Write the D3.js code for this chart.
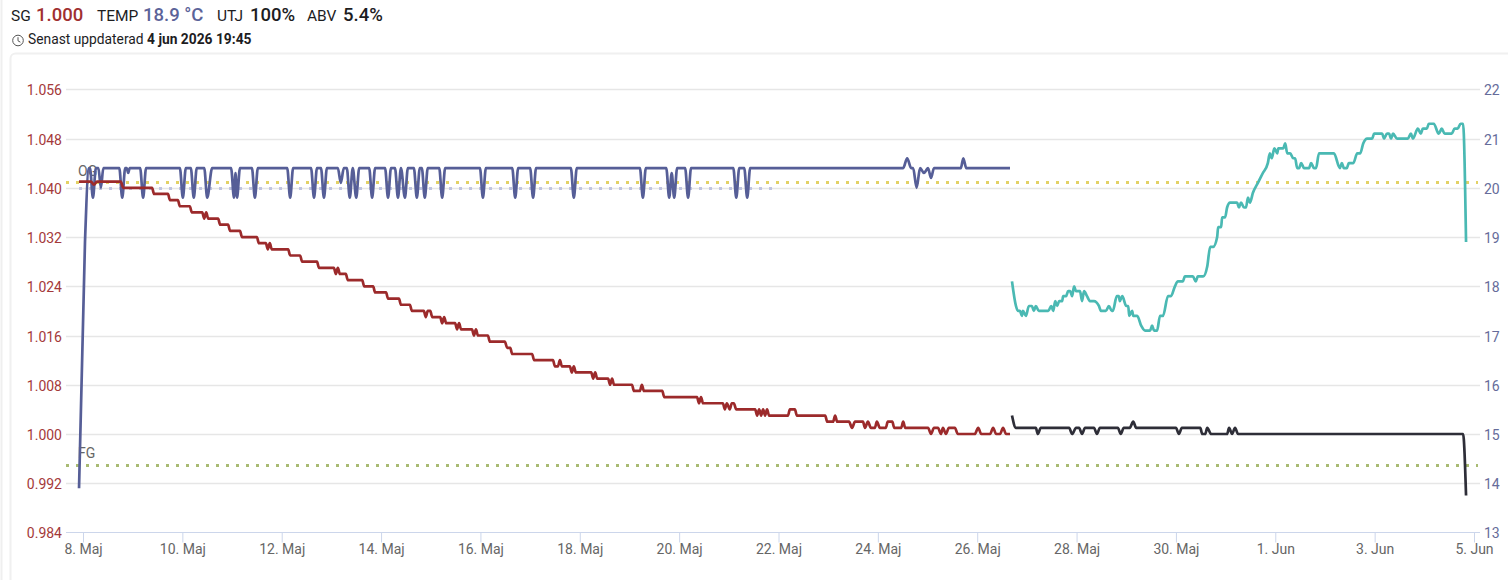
<!DOCTYPE html>
<html><head><meta charset="utf-8">
<script src="https://cdn.jsdelivr.net/npm/d3@7/dist/d3.min.js"></script>
<style>
html,body{margin:0;padding:0;background:#fff;overflow:hidden}
svg{display:block;font-family:Roboto,sans-serif}
</style></head><body><svg id="c" width="1508" height="580"></svg>
<script>
const sgTicks=[0.984,0.992,1.000,1.008,1.016,1.024,1.032,1.040,1.048,1.056];
const tempTicks=[13,14,15,16,17,18,19,20,21,22];
const dayTicks=[0,2,4,6,8,10,12,14,16,18,20,22,24,26,28];
const dayLabels=["8. Maj","10. Maj","12. Maj","14. Maj","16. Maj","18. Maj","20. Maj","22. Maj","24. Maj","26. Maj","28. Maj","30. Maj","1. Jun","3. Jun","5. Jun"];
const ogValue=1.041, fgValue=0.995, targetTemp=20, targetSpan=[-0.08,14.0];
// [days since 8 May, degrees]
const tempFerment=[[-0.08,13.9],[0.04,18.9],[0.12,20.4],[0.14,20.4],[0.20,19.8],[0.26,20.4],[0.31,20.4],[0.36,20.0],[0.41,20.4],[0.73,20.4],[0.79,19.8],[0.85,20.4],[0.88,20.4],[0.91,20.3],[0.94,20.4],[1.15,20.4],[1.21,19.8],[1.27,20.4],[1.95,20.4],[2.01,19.8],[2.07,20.4],[2.17,20.4],[2.23,19.8],[2.29,20.4],[2.44,20.4],[2.50,19.8],[2.60,20.4],[2.98,20.4],[3.04,19.8],[3.07,20.3],[3.10,19.8],[3.16,20.4],[3.40,20.4],[3.46,19.8],[3.52,20.4],[4.11,20.4],[4.17,19.8],[4.23,20.4],[4.59,20.4],[4.65,19.8],[4.71,20.4],[4.79,20.4],[4.85,19.8],[4.91,20.4],[5.13,20.4],[5.19,20.1],[5.25,20.4],[5.31,20.4],[5.37,19.8],[5.43,20.4],[5.50,19.8],[5.56,20.4],[5.76,20.4],[5.82,19.8],[5.88,20.4],[6.08,20.4],[6.14,19.8],[6.20,20.4],[6.28,20.4],[6.34,19.8],[6.40,20.4],[6.48,19.8],[6.54,20.4],[6.66,20.4],[6.72,19.8],[6.78,20.4],[6.82,20.4],[6.88,19.8],[6.94,20.4],[7.17,20.4],[7.23,19.8],[7.29,20.4],[7.99,20.4],[8.05,19.8],[8.11,20.4],[8.64,20.4],[8.70,19.8],[8.76,20.4],[9.00,20.4],[9.06,19.8],[9.12,20.4],[9.82,20.4],[9.88,19.8],[9.94,20.4],[11.21,20.4],[11.27,19.8],[11.33,20.4],[11.74,20.4],[11.80,19.8],[11.85,20.3],[11.90,19.8],[11.96,20.4],[12.12,20.4],[12.18,19.8],[12.24,20.4],[13.09,20.4],[13.15,19.8],[13.21,20.4],[13.31,20.4],[13.37,19.8],[13.43,20.4],[16.51,20.4],[16.59,20.6],[16.67,20.4],[16.71,20.4],[16.78,20.0],[16.85,20.4],[16.93,20.3],[16.97,20.35],[17.01,20.4],[17.07,20.2],[17.13,20.4],[17.67,20.4],[17.72,20.6],[17.78,20.4],[18.66,20.4]];
// [days since 8 May, specific gravity]
const sgFerment=[[-0.08,1.041],[0.16,1.041],[0.22,1.0405],[0.28,1.041],[0.76,1.041],[0.81,1.040],[1.39,1.040],[1.43,1.039],[1.71,1.039],[1.75,1.038],[1.91,1.038],[1.95,1.037],[2.15,1.037],[2.19,1.036],[2.40,1.036],[2.44,1.035],[2.48,1.036],[2.52,1.035],[2.72,1.035],[2.76,1.034],[2.92,1.034],[2.96,1.033],[3.16,1.033],[3.20,1.032],[3.50,1.032],[3.54,1.031],[3.68,1.031],[3.72,1.030],[3.76,1.031],[3.80,1.030],[4.13,1.030],[4.17,1.029],[4.37,1.029],[4.41,1.028],[4.71,1.028],[4.75,1.027],[5.05,1.027],[5.09,1.026],[5.13,1.027],[5.17,1.026],[5.29,1.026],[5.33,1.025],[5.62,1.025],[5.66,1.024],[5.84,1.024],[5.88,1.023],[6.10,1.023],[6.14,1.022],[6.36,1.022],[6.40,1.021],[6.58,1.021],[6.62,1.020],[6.86,1.020],[6.90,1.019],[6.94,1.020],[6.99,1.020],[7.03,1.019],[7.19,1.019],[7.23,1.018],[7.27,1.019],[7.31,1.018],[7.49,1.018],[7.53,1.017],[7.57,1.018],[7.61,1.017],[7.83,1.017],[7.87,1.016],[7.91,1.017],[7.95,1.016],[8.15,1.016],[8.19,1.015],[8.49,1.015],[8.54,1.014],[8.60,1.014],[8.64,1.013],[9.04,1.013],[9.08,1.012],[9.46,1.012],[9.50,1.011],[9.56,1.011],[9.60,1.012],[9.64,1.011],[9.80,1.011],[9.84,1.010],[9.88,1.011],[9.92,1.010],[10.23,1.010],[10.27,1.009],[10.31,1.010],[10.35,1.009],[10.57,1.009],[10.61,1.008],[10.65,1.009],[10.69,1.008],[11.05,1.008],[11.09,1.007],[11.21,1.007],[11.25,1.008],[11.29,1.007],[11.66,1.007],[11.70,1.006],[12.36,1.006],[12.40,1.005],[12.44,1.006],[12.48,1.005],[12.88,1.005],[12.92,1.004],[12.96,1.005],[13.02,1.004],[13.06,1.005],[13.10,1.005],[13.15,1.004],[13.53,1.004],[13.57,1.003],[13.61,1.004],[13.65,1.003],[13.69,1.004],[13.73,1.003],[13.77,1.004],[13.81,1.003],[14.19,1.003],[14.23,1.004],[14.33,1.004],[14.37,1.003],[14.94,1.003],[14.98,1.002],[15.10,1.002],[15.14,1.003],[15.18,1.002],[15.42,1.002],[15.48,1.001],[15.54,1.002],[15.70,1.002],[15.74,1.001],[15.80,1.002],[15.86,1.001],[15.94,1.001],[15.98,1.002],[16.04,1.001],[16.16,1.001],[16.20,1.002],[16.29,1.002],[16.33,1.001],[16.47,1.001],[16.51,1.002],[16.55,1.001],[17.01,1.001],[17.07,1.000],[17.13,1.001],[17.21,1.001],[17.27,1.000],[17.31,1.001],[17.37,1.000],[17.43,1.001],[17.55,1.001],[17.61,1.000],[17.95,1.000],[18.02,1.001],[18.08,1.000],[18.26,1.000],[18.32,1.001],[18.38,1.000],[18.46,1.000],[18.52,1.001],[18.58,1.000],[18.66,1.000]];
const tempLate=[[18.70,18.1],[18.78,17.6],[18.82,17.5],[18.86,17.5],[18.90,17.4],[18.92,17.5],[18.98,17.4],[19.04,17.6],[19.10,17.6],[19.14,17.5],[19.18,17.6],[19.24,17.5],[19.43,17.5],[19.49,17.6],[19.53,17.5],[19.57,17.7],[19.61,17.6],[19.65,17.7],[19.71,17.7],[19.73,17.8],[19.79,17.8],[19.83,17.9],[19.87,17.9],[19.91,17.8],[19.95,18.0],[19.99,17.9],[20.07,17.9],[20.11,17.7],[20.15,17.9],[20.21,17.8],[20.27,17.7],[20.35,17.7],[20.45,17.6],[20.49,17.5],[20.59,17.5],[20.65,17.6],[20.71,17.5],[20.73,17.5],[20.81,17.8],[20.85,17.8],[20.87,17.7],[20.92,17.8],[21.00,17.6],[21.04,17.6],[21.06,17.4],[21.12,17.5],[21.14,17.4],[21.22,17.4],[21.30,17.2],[21.38,17.1],[21.48,17.1],[21.52,17.2],[21.56,17.1],[21.62,17.1],[21.68,17.4],[21.74,17.4],[21.84,17.8],[21.90,17.8],[21.98,18.0],[22.04,18.1],[22.14,18.1],[22.18,18.2],[22.34,18.2],[22.40,18.1],[22.44,18.2],[22.55,18.2],[22.63,18.4],[22.69,18.8],[22.75,18.8],[22.83,19.0],[22.85,19.2],[22.91,19.2],[22.93,19.4],[22.99,19.4],[23.03,19.6],[23.09,19.7],[23.23,19.7],[23.27,19.6],[23.31,19.7],[23.37,19.6],[23.41,19.6],[23.45,19.8],[23.49,19.7],[23.55,19.9],[23.65,20.1],[23.75,20.3],[23.85,20.5],[23.89,20.7],[23.93,20.6],[23.98,20.8],[24.04,20.7],[24.06,20.8],[24.16,20.8],[24.20,20.9],[24.24,20.7],[24.30,20.7],[24.36,20.6],[24.40,20.6],[24.44,20.4],[24.48,20.4],[24.52,20.5],[24.58,20.4],[24.68,20.4],[24.72,20.5],[24.78,20.4],[24.82,20.4],[24.88,20.7],[25.18,20.7],[25.30,20.4],[25.34,20.5],[25.38,20.4],[25.44,20.4],[25.48,20.5],[25.57,20.5],[25.65,20.7],[25.71,20.7],[25.77,20.9],[25.85,21.0],[25.95,21.0],[25.99,21.1],[26.15,21.1],[26.19,21.0],[26.25,21.1],[26.29,21.1],[26.33,21.0],[26.37,21.1],[26.45,21.0],[26.67,21.0],[26.73,21.1],[26.77,21.0],[26.87,21.2],[26.93,21.1],[26.97,21.2],[27.05,21.2],[27.09,21.3],[27.19,21.3],[27.29,21.1],[27.35,21.2],[27.41,21.1],[27.55,21.1],[27.61,21.2],[27.67,21.2],[27.73,21.3],[27.78,21.3],[27.84,18.9]];
const sgLate=[[18.70,1.003],[18.78,1.001],[19.18,1.001],[19.22,1.000],[19.28,1.001],[19.85,1.001],[19.91,1.000],[19.99,1.001],[20.05,1.001],[20.11,1.000],[20.17,1.001],[20.35,1.001],[20.41,1.000],[20.47,1.001],[20.83,1.001],[20.89,1.000],[20.95,1.001],[21.07,1.001],[21.14,1.002],[21.20,1.001],[22.00,1.001],[22.06,1.000],[22.12,1.001],[22.49,1.001],[22.53,1.000],[22.59,1.000],[22.63,1.001],[22.71,1.000],[23.03,1.000],[23.07,1.001],[23.13,1.000],[23.19,1.001],[23.25,1.000],[27.78,1.000],[27.84,0.990]];

const svg=d3.select("#c");
const x=d3.scaleLinear().domain([0,28]).range([83,1474]);
const yS=d3.scaleLinear().domain([0.984,1.056]).range([532.5,89.3]);
const yT=d3.scaleLinear().domain([13,22]).range([532.5,89.3]);
const plotL=66, plotR=1480;

// page and card
svg.append("rect").attr("width",1508).attr("height",580).attr("fill","#fff");
svg.append("rect").attr("x",0.5).attr("y",-5).attr("width",2).attr("height",600).attr("fill","#efefef");
svg.append("rect").attr("x",10.5).attr("y",53.5).attr("width",1520).attr("height",560).attr("rx",5).attr("fill","#fff").attr("stroke","#f0f0f0").attr("stroke-width",2);

// header
const h=svg.append("g").attr("fill","#1d1d1f");
const head=(tx,bx,lab,val,col)=>{
  h.append("text").attr("x",tx).attr("y",21).attr("font-size",15.5).text(lab);
  h.append("text").attr("x",bx).attr("y",21).attr("font-size",18.5).attr("font-weight",500).attr("fill",col).text(val);
};
head(11,36,"SG","1.000","#a02f30");
head(97,143,"TEMP","18.9 °C","#5b6399");
head(217,250,"UTJ","100%","#1d1d1f");
head(307,343,"ABV","5.4%","#1d1d1f");
const clock=svg.append("g").attr("fill","none").attr("stroke","#555").attr("stroke-width",1);
clock.append("circle").attr("cx",18).attr("cy",40.5).attr("r",5.3);
clock.append("path").attr("d","M18 37.2V40.8L20.4 42.2");
const upd=svg.append("text").attr("x",28).attr("y",44).attr("font-size",13.8).attr("fill","#1d1d1f");
upd.append("tspan").text("Senast uppdaterad ");
upd.append("tspan").attr("font-weight",700).text("4 jun 2026 19:45");

// grid
svg.append("g").selectAll("line").data(sgTicks.slice(1)).join("line")
  .attr("x1",plotL).attr("x2",plotR).attr("y1",d=>Math.round(yS(d))+.5).attr("y2",d=>Math.round(yS(d))+.5)
  .attr("stroke","#e6e6e6").attr("stroke-width",1.5);

// axes
const left=svg.append("g").attr("transform",`translate(${plotL-4},1)`)
  .call(d3.axisLeft(yS).tickValues(sgTicks).tickSize(0).tickPadding(0).tickFormat(d3.format(".3f")));
left.select(".domain").remove();
left.selectAll("text").attr("font-family","Roboto").attr("font-size",14).attr("fill","#a4393a");
const right=svg.append("g").attr("transform",`translate(${plotR+4},1)`)
  .call(d3.axisRight(yT).tickValues(tempTicks).tickSize(0).tickPadding(0).tickFormat(d3.format("d")));
right.select(".domain").remove();
right.selectAll("text").attr("font-family","Roboto").attr("font-size",14).attr("fill","#666c9a");
const bottom=svg.append("g").attr("transform","translate(0,532.5)")
  .call(d3.axisBottom(x).tickValues(dayTicks).tickSize(10).tickPadding(2).tickFormat((d,i)=>dayLabels[i]));
bottom.select(".domain").attr("d",`M${plotL},0H${plotR}`).attr("stroke","#ccd6eb");
bottom.selectAll("line").attr("stroke","#ccd6eb");
bottom.selectAll("text").attr("font-family","Roboto").attr("font-size",14).attr("fill","#666");

// reference lines
const dotted=(x1,x2,y,c)=>svg.append("line").attr("x1",x1).attr("x2",x2).attr("y1",Math.round(y)+.5).attr("y2",Math.round(y)+.5)
  .attr("stroke",c).attr("stroke-width",3).attr("stroke-dasharray","3,7");
dotted(x(targetSpan[0]),x(targetSpan[1]),yT(targetTemp),"#c0c4e0");
dotted(plotL,1478,yS(ogValue),"#e3d165");
dotted(plotL,1478,yS(fgValue),"#a9bb73");
svg.append("text").attr("x",78).attr("y",176).attr("font-size",14).attr("fill","#666").text("OG");
svg.append("text").attr("x",78).attr("y",458).attr("font-size",14).attr("fill","#666").text("FG");

// series
const lineOf=y=>d3.line().x(d=>x(d[0])).y(d=>y(d[1])).curve(d3.curveMonotoneX);
const draw=(data,y,c)=>svg.append("path").attr("d",lineOf(y)(data)).attr("fill","none")
  .attr("stroke",c).attr("stroke-width",2.7).attr("stroke-linejoin","round");
draw(tempFerment,yT,"#565e97");
draw(sgFerment,yS,"#9c2a2b");
draw(tempLate,yT,"#4ab9b3");
draw(sgLate,yS,"#2e2e38");
</script></body></html>
